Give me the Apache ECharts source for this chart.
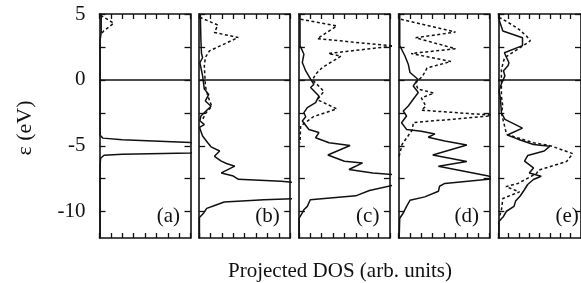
<!DOCTYPE html>
<html>
<head>
<meta charset="utf-8">
<script src="https://cdn.jsdelivr.net/npm/echarts@6/dist/echarts.min.js"></script>
<style>html,body{margin:0;padding:0;background:#fff}#c{width:581px;height:283px}</style>
</head>
<body>
<div id="c"></div>
<script>
// Panel labels
const panelLabels = ['(a)', '(b)', '(c)', '(d)', '(e)'];
// y tick values / labels (energy, eV)
const yTickValues = [-10, -7.5, -5, -2.5, 0, 2.5, 5];
const yLabelValues = [-10, -5, 0, 5];
// Data: [DOS, energy]
const aSolid = [[0.15,5],[0.15,3.6],[0.05,3.0],[0.05,-4.2],[0.3,-4.42],[2,-4.55],[8,-4.75],[10,-5.1],[8,-5.55],[2,-5.65],[0.4,-5.72],[0.1,-5.95],[0.05,-6.5],[0.05,-12]];
const aDotted = [[0.1,4.9],[1.25,4.3],[0.35,3.7],[0.1,3.4]];
const bSolid = [[0.1,5],[0.15,3],[0.2,2.0],[0.3,1.7],[0.06,1.3],[0.3,0.3],[0.45,-0.7],[0.84,-1.1],[0.54,-1.6],[1.04,-2.0],[0.6,-2.36],[0.15,-2.74],[0.06,-3.1],[0.45,-3.4],[0.02,-3.6],[0.3,-4.26],[0.75,-4.77],[1.04,-5.08],[1.8,-5.4],[1.34,-5.8],[1.94,-6.17],[2.4,-6.35],[3.13,-6.55],[1.94,-7.06],[3.0,-7.3],[3.45,-7.55],[7.2,-7.7],[8.5,-7.8],[12,-8.4],[8.5,-9.0],[5.7,-9.1],[2.2,-9.27],[1.3,-9.55],[0.66,-9.75],[0.4,-10.1],[0.02,-10.45],[0.02,-12]];
const bDotted = [[0.05,4.75],[1.64,4.16],[1.34,3.6],[3.43,3.22],[0.9,2.2],[0.54,1.7],[0.45,1.07],[0.5,0.3],[0.55,-0.5],[0.75,-1.2],[1.1,-2.0],[0.6,-2.5],[0.3,-3.0]];
const cSolid = [[0.1,5],[0.1,2.6],[0.44,1.95],[0.3,1.32],[0.6,0.68],[1.03,0.05],[1.32,-0.33],[1.03,-0.58],[1.76,-1.22],[1.47,-1.73],[0.74,-2.1],[0.44,-2.49],[0.6,-2.8],[0.3,-3.12],[0.88,-3.76],[1.76,-4.0],[1.47,-4.39],[2.65,-4.77],[4.5,-4.98],[2.55,-5.7],[4.0,-6.17],[5.6,-6.3],[4.4,-6.8],[6.5,-7.06],[8.5,-7.2],[12,-7.6],[8.5,-7.95],[6.2,-8.4],[5.0,-8.8],[1.0,-9.1],[0.74,-9.6],[0.44,-9.85],[0.3,-10.1],[0.02,-10.5],[0.02,-12]];
const cDotted = [[0.15,4.6],[3.33,4.09],[1.62,3.13],[8.3,2.57],[2.6,2.0],[3.7,1.8],[2.06,0.94],[1.47,0.43],[1.2,0],[2.2,-0.87],[1.62,-1.5],[3.33,-2.2],[1.3,-2.78],[0.15,-3.5],[0.1,-4.8]];
const dSolid = [[0.1,5],[0.1,2.6],[0.55,1.83],[0.85,1.19],[1.0,0.56],[1.7,0.05],[1.29,-0.46],[1.73,-0.96],[1.29,-1.47],[0.85,-1.98],[0.41,-2.36],[0.7,-2.74],[0.26,-3.25],[0.7,-3.76],[2.0,-3.9],[3.2,-4.1],[2.6,-4.35],[4.06,-4.64],[6.0,-4.94],[3.0,-5.7],[6.0,-6.2],[3.5,-6.55],[7.9,-7.3],[8.4,-7.5],[4.06,-7.86],[3.6,-8.07],[3.5,-8.45],[2.3,-8.88],[1.0,-9.14],[0.7,-9.6],[0.41,-10.1],[0.1,-10.5],[0.05,-12]];
const dDotted = [[0.2,4.6],[5.0,3.63],[1.5,3.2],[5.0,2.36],[1.1,2.0],[4.6,1.4],[2.5,0.9],[2.1,0.27],[1.5,-0.23],[1.7,-0.7],[3.1,-1.0],[2.0,-1.37],[2.4,-2.0],[2.0,-2.3],[8.6,-2.7],[1.3,-3.24],[1.2,-3.8],[0.3,-4.9],[0.05,-5.8]];
const eSolid = [[0.1,5],[0.1,4.5],[0.44,3.71],[2.34,3.2],[2.34,2.6],[0.59,2.06],[1.03,1.3],[0.94,1.07],[0.5,0.69],[0.64,0.3],[0.35,-0.2],[0.06,-0.84],[0.2,-1.35],[0.3,-2.5],[0.64,-3.0],[2.34,-3.66],[0.88,-4.18],[1.9,-4.5],[3.4,-4.9],[5.0,-5.03],[4.44,-5.4],[2.84,-5.74],[2.54,-6.17],[3.4,-6.68],[3.0,-7.06],[4.15,-7.31],[3.4,-7.56],[2.84,-7.94],[2.54,-8.32],[2.1,-8.83],[1.67,-9.2],[1.52,-9.6],[0.79,-9.97],[0.5,-10.36],[0.06,-10.74],[0.05,-12]];
const eDotted = [[0.06,4.75],[0.94,4.37],[1.96,3.86],[2.7,3.35],[3.1,2.97],[2.34,2.56],[0.6,1.68],[0.3,0.79],[0.3,-1.25],[0.44,-2.0],[0.3,-2.5],[0.8,-4.14],[3.4,-4.77],[5.1,-5.01],[7.2,-5.6],[6.6,-6.2],[3.9,-6.85],[3.7,-7.1],[1.9,-7.86],[0.74,-8.1],[2.05,-8.5],[0.44,-9.0],[0.3,-9.9],[0.06,-10.5]];

const solids = [aSolid, bSolid, cSolid, dSolid, eSolid];
const dotteds = [aDotted, bDotted, cDotted, dDotted, eDotted];

const FONT = '"Liberation Serif", "Times New Roman", serif';
const INK = '#111';
const gridLeft0 = 99.5, gridStep = 99.7, gridW = 91, gridTop = 14, gridH = 224;

const grids = [], xAxes = [], yAxes = [], series = [], graphics = [];
for (let i = 0; i < 5; i++) {
  const left = gridLeft0 + i * gridStep;
  grids.push({left: left, top: gridTop, width: gridW, height: gridH, containLabel: false});
  ['bottom', 'top'].forEach(pos => xAxes.push({
    gridIndex: i, type: 'value', min: 0, max: 8, interval: 1, position: pos,
    axisLine: {show: true, onZero: false, lineStyle: {color: INK, width: 1.6}},
    axisTick: {show: true, inside: true, length: 5, lineStyle: {color: INK, width: 1.3}},
    axisLabel: {show: false}, splitLine: {show: false}
  }));
  ['left', 'right'].forEach(pos => yAxes.push({
    gridIndex: i, type: 'value', min: -12, max: 5, position: pos,
    axisLine: {show: true, onZero: false, lineStyle: {color: INK, width: 1.6}},
    axisTick: {show: true, inside: true, length: 6, customValues: yTickValues, lineStyle: {color: INK, width: 1.3}},
    axisLabel: {show: (i === 0 && pos === 'left'), customValues: yLabelValues, fontFamily: FONT, fontSize: 21, color: INK, margin: 14},
    splitLine: {show: false}
  }));
  series.push({
    type: 'line', xAxisIndex: 2 * i, yAxisIndex: 2 * i, data: solids[i], symbol: 'none', showSymbol: false,
    lineStyle: {color: INK, width: 1.5}, clip: true, silent: true, animation: false,
    markLine: {silent: true, symbol: 'none', label: {show: false}, lineStyle: {color: INK, width: 1.6, type: 'solid'}, data: [{yAxis: 0}], animation: false}
  });
  series.push({
    type: 'line', xAxisIndex: 2 * i, yAxisIndex: 2 * i, data: dotteds[i], symbol: 'none', showSymbol: false,
    lineStyle: {color: INK, width: 1.5, type: [3, 2.5]}, clip: true, silent: true, animation: false
  });
  graphics.push({
    type: 'text', x: left + gridW - 10.5, y: 216,
    style: {text: panelLabels[i], font: '21px ' + FONT, fill: INK, textAlign: 'right', textVerticalAlign: 'middle'}
  });
}
graphics.push({type: 'text', x: 25, y: 128, rotation: Math.PI / 2,
  style: {text: 'ε (eV)', font: '22px ' + FONT, fill: INK, textAlign: 'center', textVerticalAlign: 'middle'}});
graphics.push({type: 'text', x: 340, y: 271,
  style: {text: 'Projected DOS (arb. units)', font: '21px ' + FONT, fill: INK, textAlign: 'center', textVerticalAlign: 'middle'}});

const chart = echarts.init(document.getElementById('c'), null, {renderer: 'canvas'});
chart.setOption({animation: false, grid: grids, xAxis: xAxes, yAxis: yAxes, series: series, graphic: graphics});
</script>
</body>
</html>
